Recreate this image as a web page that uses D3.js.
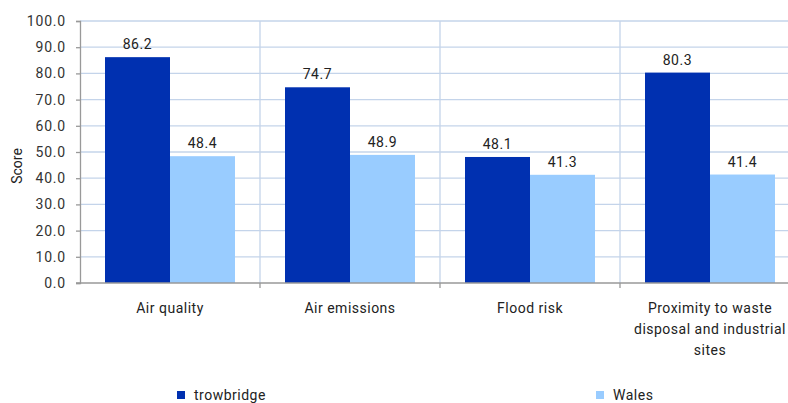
<!DOCTYPE html>
<html>
<head>
<meta charset="utf-8">
<script src="https://cdn.jsdelivr.net/npm/d3@7"></script>
<style>
  html, body { margin: 0; padding: 0; background: #fff; }
  svg { display: block; font-family: Roboto, "Noto Sans", sans-serif; }
</style>
</head>
<body>
<svg id="chart" width="788" height="403"></svg>
<script>
// Environment domain scores by indicator
const categories = [
  ["Air quality"],
  ["Air emissions"],
  ["Flood risk"],
  ["Proximity to waste", "disposal and industrial", "sites"]
];
const seriesNames = ["trowbridge", "Wales"];
const trowbridge = [86.2, 74.7, 48.1, 80.3];
const wales = [48.4, 48.9, 41.3, 41.4];
const yTicks = [0, 10, 20, 30, 40, 50, 60, 70, 80, 90, 100];
const colors = ["#0030b0", "#99ccff"];

const svg = d3.select("#chart");
const margin = { left: 80, top: 21, bottom: 120 };
const plotW = 720, plotH = 262;

const x0 = d3.scaleBand().domain(d3.range(categories.length))
  .range([margin.left, margin.left + plotW]).paddingInner(0).paddingOuter(0);
const x1 = d3.scaleBand().domain(d3.range(seriesNames.length))
  .range([0, x0.bandwidth()]).paddingOuter(25 / 65).paddingInner(0);
const y = d3.scaleLinear().domain([0, 100]).range([margin.top + plotH, margin.top]);

const grid = "#c4d4ea";
// horizontal gridlines
svg.append("g").selectAll("line").data(yTicks.filter(t => t > 0)).join("line")
  .attr("x1", margin.left).attr("x2", 788)
  .attr("y1", d => y(d)).attr("y2", d => y(d))
  .attr("stroke", grid).attr("stroke-width", 1.3);
// vertical category separators
svg.append("g").selectAll("line").data(d3.range(1, categories.length)).join("line")
  .attr("x1", d => x0(d)).attr("x2", d => x0(d))
  .attr("y1", y(100)).attr("y2", y(0))
  .attr("stroke", grid).attr("stroke-width", 1.3);

const values = [trowbridge, wales];
const groups = svg.append("g").selectAll("g").data(categories).join("g")
  .attr("transform", (d, i) => `translate(${x0(i)},0)`);
groups.selectAll("rect").data((d, i) => values.map((v, s) => ({ s, v: v[i] }))).join("rect")
  .attr("x", d => x1(d.s)).attr("width", x1.bandwidth())
  .attr("y", d => y(d.v)).attr("height", d => y(0) - y(d.v))
  .attr("fill", d => colors[d.s]);
groups.selectAll("text.val").data((d, i) => values.map((v, s) => ({ s, v: v[i] }))).join("text")
  .attr("class", "val")
  .attr("x", d => x1(d.s) + x1.bandwidth() / 2).attr("y", d => y(d.v) - 8)
  .attr("text-anchor", "middle").attr("font-size", 14).attr("letter-spacing", 0.6)
  .attr("fill", "#222").text(d => d.v.toFixed(1));

// y axis
const yAxis = svg.append("g").attr("transform", `translate(${margin.left},0)`)
  .call(d3.axisLeft(y).tickValues(yTicks).tickSize(4).tickPadding(10).tickFormat(d => d.toFixed(1)));
yAxis.select(".domain").attr("stroke", "#999").attr("stroke-width", 1.3);
yAxis.selectAll(".tick line").attr("stroke", "#999").attr("stroke-width", 1.3);
yAxis.selectAll(".tick text").attr("font-size", 14).attr("letter-spacing", 0.8)
  .attr("fill", "#333").attr("font-family", "Roboto, sans-serif");

// x axis baseline with separators
const xg = svg.append("g");
xg.append("line").attr("x1", margin.left - 4).attr("x2", 788)
  .attr("y1", y(0)).attr("y2", y(0)).attr("stroke", "#999").attr("stroke-width", 1.3);
xg.selectAll("line.tk").data(d3.range(1, categories.length)).join("line")
  .attr("class", "tk")
  .attr("x1", d => x0(d)).attr("x2", d => x0(d))
  .attr("y1", y(0)).attr("y2", y(0) + 5).attr("stroke", "#999").attr("stroke-width", 1.3);
const labels = xg.selectAll("text").data(categories).join("text")
  .attr("text-anchor", "middle").attr("font-size", 14).attr("letter-spacing", 0.5).attr("fill", "#222")
  .attr("transform", (d, i) => `translate(${x0(i) + x0.bandwidth() / 2},${y(0) + 30})`);
labels.selectAll("tspan").data(d => d).join("tspan")
  .attr("x", 0).attr("dy", (d, i) => i === 0 ? 0 : 21).text(d => d);

// y axis title
svg.append("text").attr("transform", "translate(22,166) rotate(-90)")
  .attr("text-anchor", "middle").attr("font-size", 14).attr("fill", "#222").text("Score");

// legend
const legendX = [177, 596];
const lg = svg.append("g").selectAll("g").data(seriesNames).join("g")
  .attr("transform", (d, i) => `translate(${legendX[i]},391)`);
lg.append("rect").attr("width", 8).attr("height", 8).attr("fill", (d, i) => colors[i]);
lg.append("text").attr("x", 17).attr("y", 9).attr("font-size", 14).attr("letter-spacing", 0.5)
  .attr("fill", "#222").text(d => d);
</script>
</body>
</html>
